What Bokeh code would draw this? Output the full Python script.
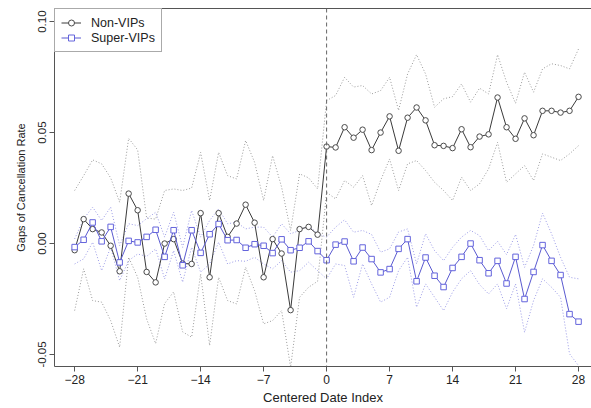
from bokeh.plotting import figure
from bokeh.models import (Range1d, FixedTicker, LinearAxis, Span, Legend,
                          LegendItem, NumeralTickFormatter)
from bokeh.embed import file_html
from bokeh.resources import INLINE

# ---------------- data ----------------
days = list(range(-28, 29))

non_vip = [-0.003, 0.011, 0.0065, 0.005, -0.001, -0.0125, 0.0225, 0.015, -0.0128, -0.0175,
           0.0, 0.002, -0.009, -0.0092, 0.0137, -0.0152, 0.0137, 0.003, 0.009, 0.0175,
           0.0094, -0.0152, 0.002, -0.0045, -0.030, 0.0065, 0.0075, 0.004,
           0.0437,
           0.0433, 0.0524, 0.0477, 0.0513, 0.0421, 0.0500, 0.0573, 0.0418, 0.0567, 0.0613,
           0.0555, 0.0443, 0.0440, 0.0430, 0.0515, 0.0434, 0.0482, 0.0492, 0.0658, 0.0524,
           0.0472, 0.0564, 0.0488, 0.0598, 0.0598, 0.0590, 0.0598, 0.0661]

non_vip_upper = [0.0239, 0.0306, 0.0377, 0.0359, 0.0296, 0.0186, 0.0474, 0.0422, 0.0115, 0.0110,
                 0.0239, 0.0246, 0.0239, 0.0250, 0.0411, 0.0194, 0.0411, 0.0306, 0.0291, 0.0464,
                 0.0366, 0.0194, 0.0396, 0.0254, 0.0059, 0.0314, 0.0296, 0.0246,
                 0.0644,
                 0.0667, 0.0749, 0.0705, 0.0712, 0.0674, 0.0689, 0.0749, 0.0600, 0.0764, 0.0851,
                 0.0764, 0.0614, 0.0652, 0.0662, 0.0719, 0.0637, 0.0700, 0.0674, 0.0851, 0.0727,
                 0.0632, 0.0772, 0.0682, 0.0787, 0.0810, 0.0802, 0.0787, 0.0877]

non_vip_lower = [-0.0302, -0.0114, -0.0257, -0.0264, -0.0347, -0.0467, -0.0062, -0.0152, -0.0340, -0.0451,
                 -0.0270, -0.0218, -0.0398, -0.0422, -0.0137, -0.0459, -0.0152, -0.0257, -0.0272, -0.0107,
                 -0.0212, -0.0362, -0.0347, -0.0302, -0.0557, -0.0242, -0.0197, -0.0170,
                 0.0231,
                 0.0201, 0.0284, 0.0254, 0.0306, 0.0171, 0.0284, 0.0381, 0.0239, 0.0359, 0.0374,
                 0.0329, 0.0276, 0.0239, 0.0194, 0.0299, 0.0239, 0.0269, 0.0336, 0.0456, 0.0276,
                 0.0314, 0.0351, 0.0284, 0.0404, 0.0389, 0.0374, 0.0404, 0.0441]

super_vip = [-0.0016, 0.0017, 0.0095, 0.001, 0.0075, -0.0085, 0.0012, 0.0005, 0.003, 0.0062,
             -0.006, 0.006, -0.0098, 0.006, -0.0042, 0.0042, 0.0088, 0.0015, 0.0016, -0.0019,
             -0.0003, -0.001, -0.0043, 0.0019, -0.003, -0.0019, 0.001, -0.0034,
             -0.0075,
             -0.0005, 0.0009, -0.008, -0.0018, -0.007, -0.013, -0.0115, -0.0024, 0.002, -0.017,
             -0.0063, -0.0145, -0.0196, -0.011, -0.006, 0.0, -0.0075, -0.0134, -0.0078, -0.018,
             -0.006, -0.025, -0.0128, -0.0007, -0.0078, -0.0142, -0.0318, -0.0352]

super_vip_upper = [0.0021, 0.0111, 0.0164, 0.0104, 0.0164, -0.0009, 0.0089, 0.0081, 0.0112, 0.0141,
                   0.0029, 0.0141, -0.0017, 0.0149, 0.0029, 0.0104, 0.0156, 0.0089, 0.0096, 0.0066,
                   0.0074, 0.0074, 0.0029, 0.0089, 0.0044, 0.0059, 0.0081, 0.0044,
                   0.0029,
                   0.0074, 0.0107, 0.0051, 0.0059, 0.0041, -0.0039, -0.0024, 0.0052, 0.0066, -0.0092,
                   0.0044, -0.0032, -0.0077, -0.0017, 0.0029, 0.0059, 0.0036, -0.0032, 0.0010, -0.0050,
                   0.0041, -0.0107, -0.0009, 0.0137, 0.0044, -0.0062, -0.0152, -0.0159]

super_vip_lower = [-0.0092, -0.0069, 0.0006, -0.0122, -0.0017, -0.0167, -0.0077, -0.0047, -0.0058, -0.0024,
                   -0.0159, -0.0032, -0.0174, -0.0017, -0.0129, -0.0092, 0.0006, -0.0092, -0.0077, -0.0080,
                   -0.0062, -0.0092, -0.0114, -0.0077, -0.0129, -0.0122, -0.0084, -0.0122,
                   -0.0159,
                   -0.0092, -0.0099, -0.0242, -0.0092, -0.0182, -0.0264, -0.0242, -0.0122, -0.0062, -0.0287,
                   -0.0182, -0.0242, -0.0302, -0.0219, -0.0159, -0.0122, -0.0185, -0.0227, -0.0182, -0.0294,
                   -0.0182, -0.0400, -0.0257, -0.0159, -0.0197, -0.0242, -0.0497, -0.0550]

x_ticks = [-28, -21, -14, -7, 0, 7, 14, 21, 28]
y_ticks = [-0.05, 0.0, 0.05, 0.10]

# ---------------- style ----------------
FONT = "Liberation Sans"
GRAY_LINE = "#3a3a3a"
GRAY_PT = "#4a4a4a"
GRAY_BAND = "#9a9a9a"
BLUE_LINE = "#5a5ad0"
BLUE_PT = "#6464dc"
BLUE_BAND = "#9a9ae6"
FRAME = "#555555"

p = figure(width=591, height=408, output_backend="svg", toolbar_location=None,
           x_range=Range1d(-30.24, 29.44), y_range=Range1d(-0.0554, 0.1059),
           min_border_left=54, min_border_right=0, min_border_top=8,
           min_border_bottom=42)
p.xgrid.visible = False
p.ygrid.visible = False
p.outline_line_color = None
p.background_fill_color = "white"
p.border_fill_color = "white"

# axes
xa = p.xaxis[0]
xa.ticker = FixedTicker(ticks=x_ticks)
xa.axis_label = "Centered Date Index"
ya = p.yaxis[0]
ya.ticker = FixedTicker(ticks=y_ticks)
ya.formatter = NumeralTickFormatter(format="0.00")
ya.axis_label = "Gaps of Cancellation Rate"
ya.major_label_orientation = "parallel"

for ax in (xa, ya):
    ax.axis_line_color = FRAME
    ax.major_tick_line_color = FRAME
    ax.major_tick_out = 5
    ax.major_tick_in = 0
    ax.minor_tick_line_color = None
    ax.major_label_text_font = FONT
    ax.major_label_text_color = "#222222"
    ax.axis_label_text_font = FONT
    ax.axis_label_text_font_style = "normal"
    ax.axis_label_text_color = "#222222"

xa.major_label_text_font_size = "12px"
xa.axis_label_text_font_size = "13px"
xa.major_label_standoff = 3
xa.axis_label_standoff = 3
ya.major_label_text_font_size = "11.5px"
ya.axis_label_text_font_size = "11px"
ya.major_label_standoff = 3
ya.axis_label_standoff = 9

top = LinearAxis(ticker=FixedTicker(ticks=[]), major_label_text_font_size="0px",
                 major_tick_out=0, major_tick_in=0, minor_tick_line_color=None,
                 axis_line_color=FRAME)
p.add_layout(top, "above")

# bands
for band in (non_vip_upper, non_vip_lower):
    p.line(days, band, line_color=GRAY_BAND, line_width=1, line_dash="1 2")
for band in (super_vip_upper, super_vip_lower):
    p.line(days, band, line_color=BLUE_BAND, line_width=1, line_dash="1 2")

p.add_layout(Span(location=0, dimension="height", line_color="#666666",
                  line_width=1, line_dash="4 3"))

nv_line = p.line(days, non_vip, line_color=GRAY_LINE, line_width=1)
nv_pts = p.scatter(days, non_vip, marker="circle", size=5.5, line_color=GRAY_PT,
                   fill_color="white", line_width=1)
sv_line = p.line(days, super_vip, line_color=BLUE_LINE, line_width=1)
sv_pts = p.scatter(days, super_vip, marker="square", size=5.5, line_color=BLUE_PT,
                   fill_color="white", line_width=1)

legend = Legend(items=[LegendItem(label="Non-VIPs", renderers=[nv_line, nv_pts]),
                       LegendItem(label="Super-VIPs", renderers=[sv_line, sv_pts])],
                location="top_left", margin=0, padding=6, spacing=0,
                glyph_width=20, glyph_height=15, label_height=15,
                label_standoff=10, label_text_font=FONT,
                label_text_font_size="12.5px", label_text_color="#222222",
                border_line_color=FRAME, border_line_width=1,
                background_fill_color="white", background_fill_alpha=1)
p.add_layout(legend)

open("out.html", "w").write(file_html(p, INLINE))
